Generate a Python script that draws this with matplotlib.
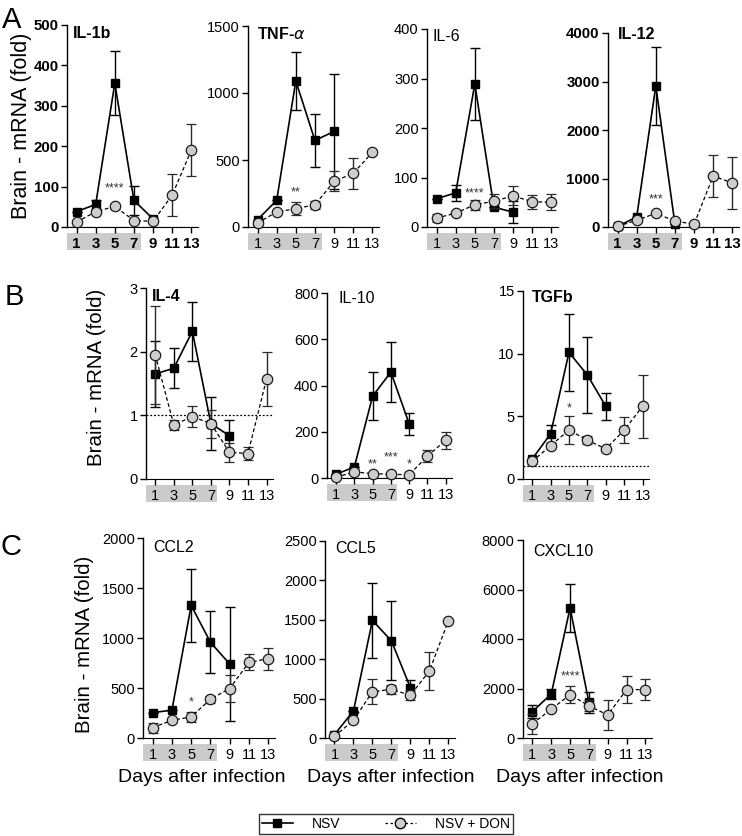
import numpy as np
import matplotlib.pyplot as plt
import matplotlib.transforms as mtransforms
from matplotlib.patches import Rectangle
from matplotlib.lines import Line2D

plt.rcParams["font.family"] = ["Liberation Sans", "DejaVu Sans"]

days = [1, 3, 5, 7, 9, 11, 13]
nan = np.nan

# mean and error, NSV vs NSV + DON
il1b_nsv = [38, 56, 356, 66, 20, nan, nan]
il1b_nsv_err = [0, 12, 80, 36, 0, nan, nan]
il1b_don = [12, 38, 51, 16, 14, 79, 190]
il1b_don_err = [0, 0, 6, 0, 0, 53, 64]

tnf_nsv = [55, 199, 1090, 646, 713, nan, nan]
tnf_nsv_err = [0, 0, 218, 200, 430, nan, nan]
tnf_don = [30, 112, 137, 166, 340, 400, 556]
tnf_don_err = [0, 0, 50, 30, 75, 115, 0]

il6_nsv = [57, 69, 289, 40, 30, nan, nan]
il6_nsv_err = [0, 16, 72, 0, 22, nan, nan]
il6_don = [18, 28, 45, 52, 63, 51, 50]
il6_don_err = [8, 0, 10, 14, 19, 14, 16]

il12_nsv = [14, 205, 2910, 62, nan, nan, nan]
il12_nsv_err = [0, 0, 800, 0, nan, nan, nan]
il12_don = [14, 137, 282, 124, 56, 1050, 910]
il12_don_err = [0, 0, 0, 0, 0, 430, 535]

il4_nsv = [1.65, 1.74, 2.32, 0.87, 0.68, nan, nan]
il4_nsv_err = [0.52, 0.31, 0.46, 0.42, 0.24, nan, nan]
il4_don = [1.95, 0.85, 0.98, 0.87, 0.42, 0.40, 1.57]
il4_don_err = [0.77, 0.08, 0.17, 0.22, 0.15, 0.10, 0.43]

il10_nsv = [16, 48, 354, 458, 235, nan, nan]
il10_nsv_err = [0, 0, 105, 128, 48, nan, nan]
il10_don = [4, 26, 19, 16, 14, 94, 163]
il10_don_err = [0, 0, 0, 0, 0, 25, 38]

tgfb_nsv = [1.6, 3.6, 10.1, 8.3, 5.8, nan, nan]
tgfb_nsv_err = [0, 0.7, 3.1, 3.0, 1.1, nan, nan]
tgfb_don = [1.4, 2.67, 3.9, 3.1, 2.4, 3.9, 5.8]
tgfb_don_err = [0.2, 0, 1.1, 0.3, 0, 1.05, 2.5]

ccl2_nsv = [254, 278, 1326, 957, 740, nan, nan]
ccl2_nsv_err = [0, 0, 365, 310, 570, nan, nan]
ccl2_don = [104, 177, 211, 388, 495, 757, 793]
ccl2_don_err = [50, 0, 50, 35, 135, 80, 112]

ccl5_nsv = [43, 344, 1492, 1233, 638, nan, nan]
ccl5_nsv_err = [0, 0, 475, 500, 95, nan, nan]
ccl5_don = [21, 225, 587, 617, 544, 850, 1488]
ccl5_don_err = [0, 0, 160, 60, 60, 240, 0]

cxcl10_nsv = [1067, 1778, 5253, 1436, nan, nan, nan]
cxcl10_nsv_err = [250, 220, 970, 420, nan, nan, nan]
cxcl10_don = [575, 1163, 1751, 1300, 930, 1956, 1956]
cxcl10_don_err = [400, 0, 340, 220, 620, 560, 420]

W, H = 742, 836
fig = plt.figure(figsize=(W / 100, H / 100), dpi=100)

# name, nsv, nsv_err, don, don_err, ymax, ystep, stars, rect px (l, r, t, b), title px, bold title, bold ticks, dotted y=1
panels = [
    ("IL-1b", il1b_nsv, il1b_nsv_err, il1b_don, il1b_don_err, 500, 100, [(5, 95, "****")],
     (67, 198, 25, 227), (73, 32), True, True, True),
    ("TNF-$\\alpha$", tnf_nsv, tnf_nsv_err, tnf_don, tnf_don_err, 1500, 500, [(5, 255, "**")],
     (248, 379, 26, 227), (257, 33), True, False, True),
    ("IL-6", il6_nsv, il6_nsv_err, il6_don, il6_don_err, 400, 100, [(5, 68, "****")],
     (427, 558, 29, 227), (433, 35), False, False, True),
    ("IL-12", il12_nsv, il12_nsv_err, il12_don, il12_don_err, 4000, 1000, [(5, 570, "***")],
     (608, 739, 33, 227), (618, 33), True, True, True),
    ("IL-4", il4_nsv, il4_nsv_err, il4_don, il4_don_err, 3, 1, [],
     (146, 273, 288, 479), (152, 295), True, False, True),
    ("IL-10", il10_nsv, il10_nsv_err, il10_don, il10_don_err, 800, 200,
     [(5, 60, "**"), (7, 88, "***"), (9, 60, "*")],
     (327, 452, 293, 478), (338, 297), False, False, True),
    ("TGFb", tgfb_nsv, tgfb_nsv_err, tgfb_don, tgfb_don_err, 15, 5, [(5, 5.6, "*")],
     (523, 649, 291, 479), (532, 296), True, False, True),
    ("CCL2", ccl2_nsv, ccl2_nsv_err, ccl2_don, ccl2_don_err, 2000, 500, [(5, 360, "*")],
     (143, 275, 538, 738), (153, 546), False, False, False),
    ("CCL5", ccl5_nsv, ccl5_nsv_err, ccl5_don, ccl5_don_err, 2500, 500, [],
     (325, 455, 541, 738), (335, 547), False, False, False),
    ("CXCL10", cxcl10_nsv, cxcl10_nsv_err, cxcl10_don, cxcl10_don_err, 8000, 2000, [(5, 2480, "****")],
     (523, 652, 540, 738), (533, 550), False, False, False),
]

for (name, nsv, nsv_err, don, don_err, ymax, ystep, stars, rect, tpos,
     bold_title, bold_ticks, dotted) in panels:
    l, r, t, b = rect
    hpx = b - t
    ax = fig.add_axes([l / W, 1 - b / H, (r - l) / W, hpx / H])

    eb1 = ax.errorbar(days, nsv, yerr=nsv_err, color="k", lw=1.2, marker="s", ms=6,
                      mfc="k", mec="k", capsize=3.5, elinewidth=1, capthick=1, zorder=3)
    eb2 = ax.errorbar(days, don, yerr=don_err, color="k", lw=0.9, ls=(0, (3, 2)), marker="o",
                      ms=7.5, mfc="#cdcdcd", mec="#1a1a1a", mew=0.9, ecolor="#2a2a2a",
                      capsize=3.5, elinewidth=1, capthick=1, zorder=4)
    for eb in (eb1, eb2):
        line, caps, bars = eb.lines
        for a in [line, *caps, *bars]:
            a.set_clip_on(False)

    if dotted:
        ax.axhline(1, ls=(0, (1.5, 1.5)), lw=0.9, color="k", zorder=1)

    ax.set_xlim(0, 13.7)
    ax.set_ylim(0, ymax)
    ax.set_xticks([1, 3, 5, 7, 9, 11, 13])
    ax.set_yticks(np.arange(0, ymax + ystep / 2, ystep))
    for s in ["top", "right"]:
        ax.spines[s].set_visible(False)
    ax.spines["left"].set_linewidth(1)
    ax.spines["bottom"].set_linewidth(0.8)
    ax.tick_params(direction="out", length=4, width=1, labelsize=10.5, pad=2)
    ax.tick_params(axis="x", pad=3.5)
    if bold_ticks:
        for lab in ax.get_yticklabels() + ax.get_xticklabels():
            lab.set_fontweight("bold")
            lab.set_fontsize(10.8)

    # gray box under days 1-7
    trans = mtransforms.blended_transform_factory(ax.transData, ax.transAxes)
    ax.add_patch(Rectangle((0, -23 / hpx), 7.7, 17 / hpx, transform=trans,
                           facecolor="#cbcbcb", edgecolor="none", clip_on=False, zorder=0))

    for sx, sy, st in stars:
        ax.text(sx, sy, st, ha="center", va="center", fontsize=9, color="#333333")

    fig.text(tpos[0] / W, 1 - (tpos[1] + 5.7) / H, name, fontsize=11.5, ha="left",
             va="baseline", fontweight="bold" if bold_title else "normal")

# panel letters
fig.text(2 / W, 1 - 28 / H, "A", fontsize=21, va="baseline")
fig.text(5 / W, 1 - 305 / H, "B", fontsize=21, va="baseline")
fig.text(1 / W, 1 - 555 / H, "C", fontsize=21, va="baseline")

# y labels
fig.text(22 / W, 1 - 126 / H, "Brain - mRNA (fold)", rotation=90, fontsize=15.5, ha="center", va="center")
fig.text(97 / W, 1 - 377 / H, "Brain - mRNA (fold)", rotation=90, fontsize=14.8, ha="center", va="center")
fig.text(85 / W, 1 - 644 / H, "Brain - mRNA (fold)", rotation=90, fontsize=14.8, ha="center", va="center")

for xc in [202, 391, 580]:
    fig.text(xc / W, 1 - 778 / H, "Days after infection", fontsize=14, ha="center", va="center")

handles = [
    Line2D([], [], color="k", lw=1.2, marker="s", ms=6),
    Line2D([], [], color="k", lw=0.9, ls=(0, (2, 2)), marker="o", ms=7.5, mfc="#cdcdcd", mec="k"),
]
leg = fig.legend(handles, ["NSV", "NSV + DON"], loc="center", bbox_to_anchor=(386 / W, 1 - 824 / H),
                 ncol=2, frameon=True, fancybox=False, edgecolor="k", fontsize=10,
                 handlelength=2.2, columnspacing=3.2, borderpad=0.25, handletextpad=1.4)
leg.get_frame().set_linewidth(1)

plt.savefig("out.png", dpi=100)
